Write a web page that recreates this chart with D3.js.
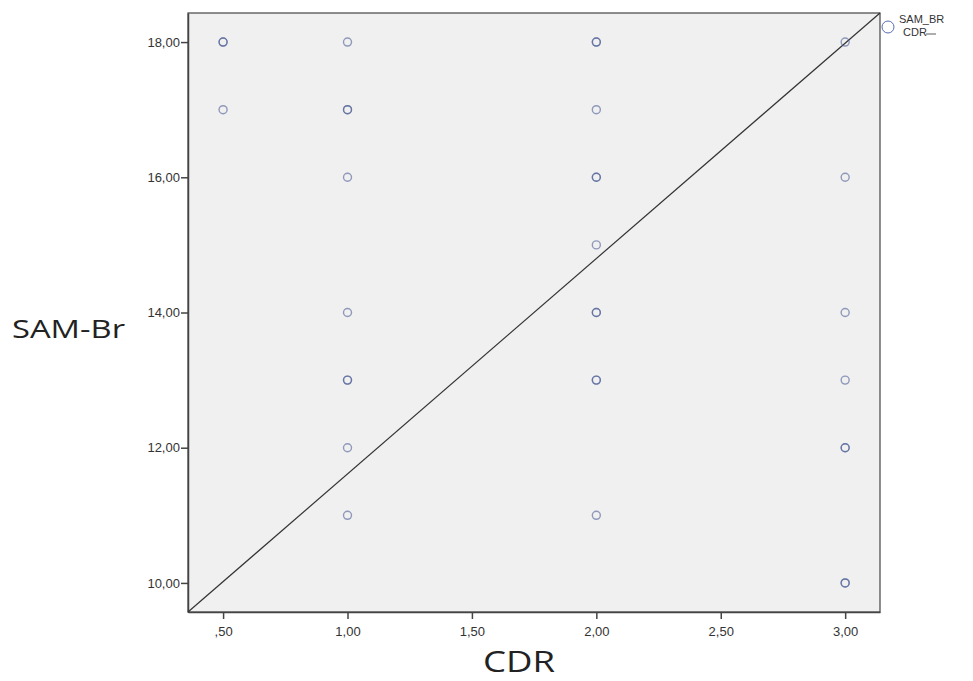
<!DOCTYPE html>
<html>
<head>
<meta charset="utf-8">
<script src="https://cdn.jsdelivr.net/npm/d3@7"></script>
<style>
  body { margin: 0; background: #fff; }
  .tick text { font-family: "Liberation Sans", Arial, sans-serif; font-size: 13px; fill: #333; }
  .tick line, .domain { stroke: #444; }
</style>
</head>
<body>
<svg id="chart" width="973" height="681"></svg>
<script>
// CDR values (x) and SAM-Br values (y); repeated pairs are overlapping cases
const cdr =   [0.5, 0.5, 0.5, 1, 1, 1, 1, 1, 1, 1, 1, 1, 2, 2, 2, 2, 2, 2, 2, 2, 2, 2, 2, 3, 3, 3, 3, 3, 3, 3, 3];
const samBr = [18, 18, 17, 18, 17, 17, 16, 14, 13, 13, 12, 11, 18, 18, 17, 16, 16, 15, 14, 14, 13, 13, 11, 18, 16, 14, 13, 12, 12, 10, 10];
const xTicks = [0.5, 1, 1.5, 2, 2.5, 3];
const yTicks = [10, 12, 14, 16, 18];
const xDomain = [0.359, 3.14];
const yDomain = [9.57, 18.43];

const svg = d3.select('#chart');
const x = d3.scaleLinear().domain(xDomain).range([188, 880]);
const y = d3.scaleLinear().domain(yDomain).range([612, 13]);

const fmt = v => d3.format('.2f')(v).replace('.', ',').replace(/^0,/, ',');

// plot background
svg.append('rect')
  .attr('x', x(xDomain[0])).attr('y', y(yDomain[1]))
  .attr('width', x(xDomain[1]) - x(xDomain[0]))
  .attr('height', y(yDomain[0]) - y(yDomain[1]))
  .attr('fill', '#f0f0f0')
  .attr('stroke', '#444').attr('stroke-width', 1.2);

// axes
svg.append('g')
  .attr('transform', `translate(0,${y(yDomain[0])})`)
  .call(d3.axisBottom(x).tickValues(xTicks).tickFormat(fmt).tickSize(7).tickSizeOuter(0))
  .call(g => g.selectAll('text').attr('dy', '1.05em'));

svg.append('g')
  .attr('transform', `translate(${x(xDomain[0])},0)`)
  .call(d3.axisLeft(y).tickValues(yTicks).tickFormat(fmt).tickSize(7).tickSizeOuter(0))
  .call(g => g.selectAll('text').attr('dx', '0.15em'));

svg.selectAll('.domain').attr('stroke-width', 1.5);
svg.selectAll('.tick line').attr('stroke-width', 1.5);

// reference line corner to corner
svg.append('line')
  .attr('x1', x(xDomain[0])).attr('y1', y(yDomain[0]))
  .attr('x2', x(xDomain[1])).attr('y2', y(yDomain[1]))
  .attr('stroke', '#333').attr('stroke-width', 1.2);

// points
svg.append('g').selectAll('circle')
  .data(cdr.map((c, i) => [c, samBr[i]]))
  .join('circle')
  .attr('cx', d => x(d[0]))
  .attr('cy', d => y(d[1]))
  .attr('r', 4)
  .attr('fill', 'none')
  .attr('stroke', '#4d5d96')
  .attr('stroke-opacity', 0.6)
  .attr('stroke-width', 1.4);

// legend
svg.append('circle')
  .attr('cx', 888).attr('cy', 27).attr('r', 6)
  .attr('fill', 'none').attr('stroke', '#5b6db0').attr('stroke-width', 1);
svg.append('text').attr('x', 899).attr('y', 23)
  .attr('font-family', 'Liberation Sans, Arial, sans-serif').attr('font-size', 11).attr('fill', '#333')
  .text('SAM_BR');
svg.append('text').attr('x', 903).attr('y', 36)
  .attr('font-family', 'Liberation Sans, Arial, sans-serif').attr('font-size', 11).attr('fill', '#333')
  .text('CDR');
svg.append('line').attr('x1', 926).attr('y1', 34).attr('x2', 936).attr('y2', 34)
  .attr('stroke', '#333').attr('stroke-width', 0.8);

// axis titles
svg.append('text')
  .attr('x', 483).attr('y', 672)
  .attr('font-family', 'Open Sans, sans-serif').attr('font-size', 30).attr('fill', '#222')
  .attr('textLength', 72).attr('lengthAdjust', 'spacingAndGlyphs')
  .text('CDR');
svg.append('text')
  .attr('x', 12).attr('y', 338)
  .attr('font-family', 'Open Sans, sans-serif').attr('font-size', 26).attr('fill', '#222')
  .attr('textLength', 113).attr('lengthAdjust', 'spacingAndGlyphs')
  .text('SAM-Br');
</script>
</body>
</html>
